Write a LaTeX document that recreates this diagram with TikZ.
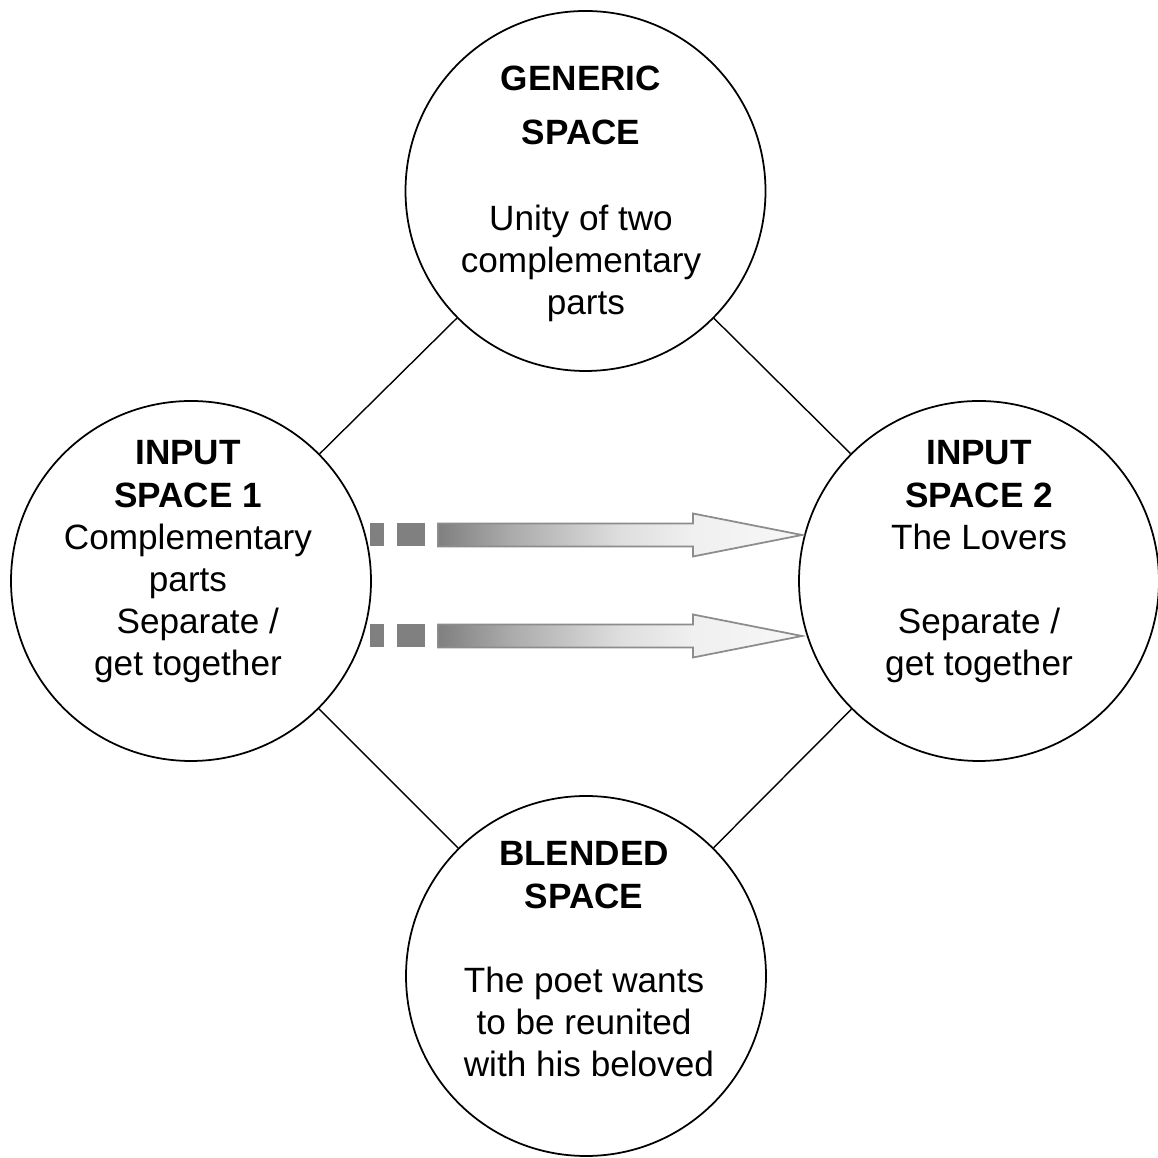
\documentclass[tikz,border=0pt]{standalone}
\usepackage{fontspec}
\setmainfont{Liberation Sans}
\usepackage{tikz}

\pgfdeclarehorizontalshading{arrowfade}{100bp}{color(0bp)=(black!50); color(25bp)=(black!50); color(35bp)=(black!33); color(50bp)=(black!13); color(60bp)=(black!6); color(75bp)=(black!3); color(100bp)=(black!3)}

\tikzset{
  spacecirc/.style={draw, circle, line width=0.5pt, minimum size=3.6cm, inner sep=0pt},
  spacetext/.style={anchor=north, align=center, inner sep=0pt, font=\fontsize{10}{12}\selectfont},
}

\begin{document}
\begin{tikzpicture}
    \useasboundingbox (0,0) rectangle (11.58,11.58);
    % the four spaces
    \node[spacecirc] (gen) at (5.855,9.67) {};
    \node[spacecirc] (inone) at (1.91,5.77) {};
    \node[spacecirc] (intwo) at (9.79,5.77) {};
    \node[spacecirc] (blend) at (5.86,1.82) {};
    \draw[line width=0.4pt] (gen) -- (inone);
    \draw[line width=0.4pt] (gen) -- (intwo);
    \draw[line width=0.4pt] (blend) -- (inone);
    \draw[line width=0.4pt] (blend) -- (intwo);
    % texts
    \node[spacetext] (gentxt) at (5.81,10.93) {\textbf{GENERIC}\\[3.4pt]\textbf{SPACE}\\[12.5pt]Unity of two\\complementary\\\ parts};
    \node[spacetext] (inonetxt) at (1.88,7.18) {\textbf{INPUT}\\\textbf{SPACE 1}\\Complementary\\parts\\\ \ Separate /\\get together};
    \node[spacetext] (intwotxt) at (9.79,7.18) {\textbf{INPUT}\\\textbf{SPACE 2}\\The Lovers\\[12pt]Separate /\\get together};
    \node[spacetext] (blendtxt) at (5.84,3.17) {\textbf{BLENDED}\\\textbf{SPACE}\\[12pt]The poet wants\\to be reunited\\\ with his beloved};
    % mapping arrows
    \foreach \y in {6.23,5.22} {
      \fill[black!50] (3.70,\y-0.115) rectangle (3.84,\y+0.115);
      \fill[black!50] (3.97,\y-0.115) rectangle (4.25,\y+0.115);
      \shadedraw[shading=arrowfade, draw=black!45, line width=0.5pt] (4.38,\y-0.115) -- (6.93,\y-0.115) -- (6.93,\y-0.215) -- (8.02,\y)
        -- (6.93,\y+0.215) -- (6.93,\y+0.115) -- (4.38,\y+0.115) -- cycle;
    }
\end{tikzpicture}
\end{document}
